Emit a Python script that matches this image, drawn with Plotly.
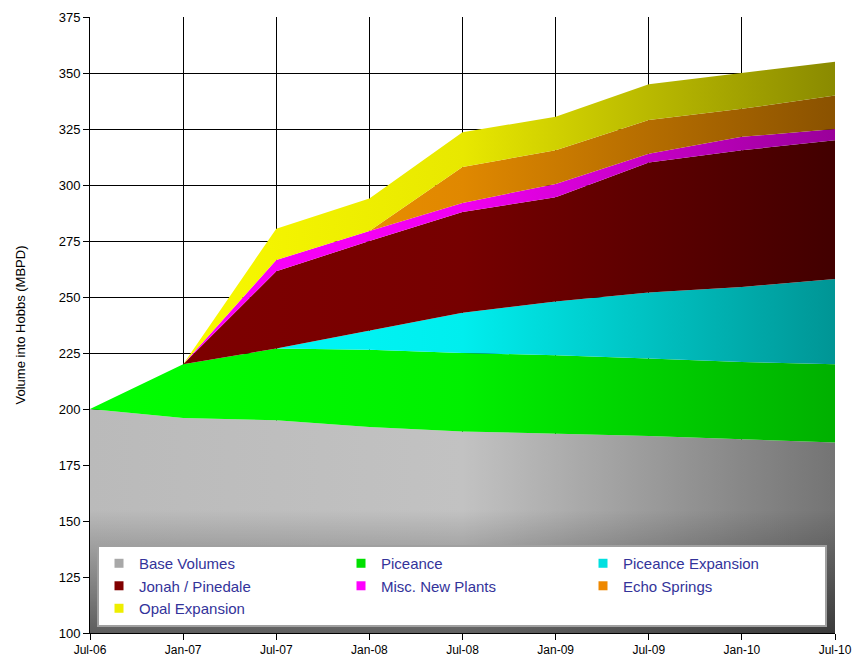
import plotly.graph_objects as go
import numpy as np

# ---- data ----
dates = ["Jul-06", "Jan-07", "Jul-07", "Jan-08", "Jul-08", "Jan-09", "Jul-09", "Jan-10", "Jul-10"]
base_volumes = [200, 196, 195, 192, 190, 189, 188, 186.5, 185]
piceance = [0, 24, 32, 34.5, 35, 35, 34.5, 34.5, 35]
piceance_expansion = [0, 0, 0, 8.5, 18, 24, 29.5, 33.5, 38]
jonah_pinedale = [0, 0, 34.5, 40, 45, 46.5, 58, 61, 62]
misc_new_plants = [0, 0, 5, 4.5, 4, 6, 4, 6, 5]
echo_springs = [0, 0, 0, 0, 16, 15, 15, 12.5, 15]
opal_expansion = [0, 0, 14, 14.5, 15.5, 15, 16, 16, 15]

y_ticks = [100, 125, 150, 175, 200, 225, 250, 275, 300, 325, 350, 375]

series = [
    ("Base Volumes", base_volumes, ["#bababa", "#c2c2c2", "#747474"], "#a8a8a8"),
    ("Piceance", piceance, ["#00ff00", "#00f000", "#00b000"], "#00e000"),
    ("Piceance Expansion", piceance_expansion, ["#00ffff", "#00eeee", "#009595"], "#00e0e0"),
    ("Jonah / Pinedale", jonah_pinedale, ["#800000", "#760000", "#420000"], "#800000"),
    ("Misc. New Plants", misc_new_plants, ["#ff00ff", "#f000f0", "#9a009a"], "#ff00ff"),
    ("Echo Springs", echo_springs, ["#ff9900", "#e08800", "#8a5200"], "#ee8800"),
    ("Opal Expansion", opal_expansion, ["#ffff00", "#e8e800", "#8a8a00"], "#eeee00"),
]

fig = go.Figure()

# baseline at axis bottom (for base fill)
bottom = [y_ticks[0]] * len(dates)
fig.add_trace(go.Scatter(x=dates, y=bottom, mode="lines",
                         line=dict(width=0), showlegend=False, hoverinfo="skip"))

cum = np.full(len(dates), float(y_ticks[0]))
first = True
for name, vals, cols, legcol in series:
    if first:
        top = np.array(vals, dtype=float)
        first = False
    else:
        top = cum + np.array(vals, dtype=float)
    fig.add_trace(go.Scatter(
        x=dates, y=top, mode="lines", line=dict(width=0),
        fill="tonexty",
        fillgradient=dict(type="horizontal",
                          colorscale=[[0, cols[0]], [0.5, cols[1]], [1, cols[2]]]),
        showlegend=False, name=name, hoverinfo="skip"))
    cum = top

# shading overlay on base area (darker toward the bottom)
fig.add_trace(go.Scatter(x=dates, y=bottom, mode="lines", line=dict(width=0),
                         showlegend=False, hoverinfo="skip"))
fig.add_trace(go.Scatter(
    x=dates, y=base_volumes, mode="lines", line=dict(width=0), fill="tonexty",
    fillgradient=dict(type="vertical", start=100, stop=155,
                      colorscale=[[0, "rgba(0,0,0,0.5)"], [1, "rgba(0,0,0,0)"]]),
    showlegend=False, hoverinfo="skip"))

# legend entries (small squares)
for name, vals, cols, legcol in series:
    fig.add_trace(go.Scatter(x=[None], y=[None], mode="markers", name=name,
                             marker=dict(symbol="square", size=9, color=legcol)))

fig.update_layout(
    width=855, height=665,
    margin=dict(l=90, r=20, t=17, b=32),
    paper_bgcolor="white", plot_bgcolor="white",
    font=dict(family="Liberation Sans, Arial, sans-serif", size=13, color="black"),
    showlegend=True,
    legend=dict(orientation="h", x=0.0094, y=0.0097, xanchor="left", yanchor="bottom",
                traceorder="normal",
                bgcolor="white", bordercolor="#a0a0a0", borderwidth=2,
                entrywidth=197, entrywidthmode="pixels",
                font=dict(size=15, color="#33339a", family="Liberation Sans, Arial, sans-serif")),
    xaxis=dict(type="category", range=[0, len(dates) - 1], showgrid=True, gridcolor="black",
               gridwidth=1, showline=True, linecolor="black", linewidth=1,
               ticks="outside", ticklen=6, tickcolor="black", tickfont=dict(size=12),
               zeroline=False, automargin=False),
    yaxis=dict(range=[y_ticks[0], y_ticks[-1]], tickvals=y_ticks, showgrid=True,
               gridcolor="black", gridwidth=1, showline=True, linecolor="black", linewidth=1,
               ticks="outside", ticklen=6, tickcolor="black", tickfont=dict(size=13),
               zeroline=False, automargin=False,
               title=dict(text="Volume into Hobbs (MBPD)", font=dict(size=13), standoff=30)),
)

fig.write_html("out.html")
